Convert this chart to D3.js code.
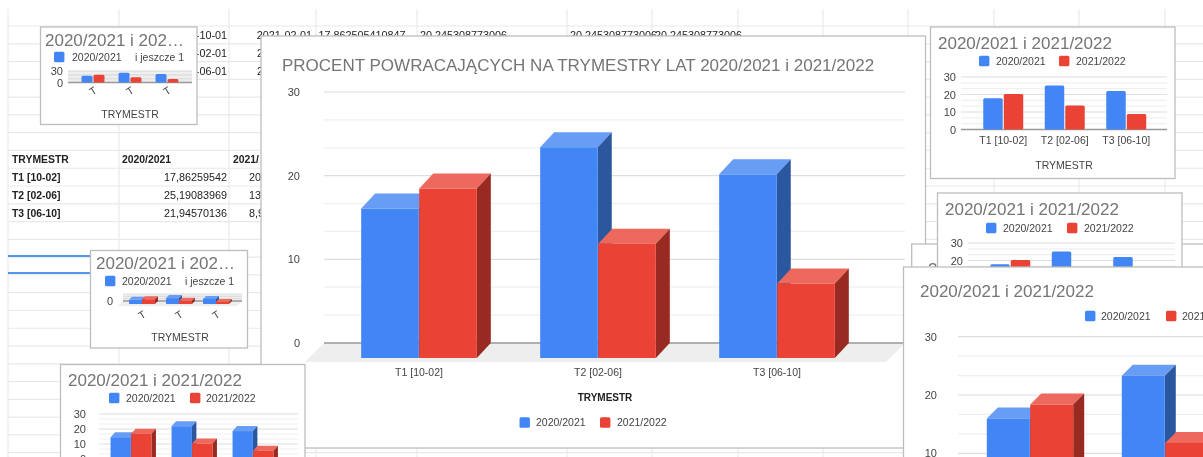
<!DOCTYPE html>
<html><head><meta charset="utf-8">
<style>html,body{margin:0;padding:0;background:#fff;overflow:hidden}svg{display:block;font-family:"Liberation Sans",Arial,sans-serif;filter:blur(0.3px)}</style>
<script src="https://cdn.jsdelivr.net/npm/d3@7"></script>
</head><body><svg id="c" width="1203" height="457"></svg>
<script>
const categories = ["T1 [10-02]", "T2 [02-06]", "T3 [06-10]"];
const seriesNames = ["2020/2021", "2021/2022"];
const values2021 = [17.86, 25.19, 21.95];
const values2122 = [20.25, 13.66, 8.9];
const majorTicks = [0, 10, 20, 30];
const minorTicks = [3.33, 6.67, 13.33, 16.67, 23.33, 26.67];
const axisTitle = "TRYMESTR";
const shortTitle = "2020/2021 i 2021/2022";
const clippedTitle = "2020/2021 i 202…";
const mainTitle = "PROCENT POWRACAJĄCYCH NA TRYMESTRY LAT 2020/2021 i 2021/2022";
const moreLabel = "i jeszcze 1";
const tableRows = [["T1 [10-02]", "17,86259542", "20"], ["T2 [02-06]", "25,19083969", "13"], ["T3 [06-10]", "21,94570136", "8,9"]];
const sheetRows = [["-10-01", "2021-02-01", "17,862505410847", "20,245308773006", "20,245308773006"], ["-02-01", "2"], ["-06-01", "2"]];

const svg = d3.select("#c");
const fill = {blue: "#4285f4", red: "#ea4335"};
const top3d = ["#689df6", "#ee695d"], side3d = ["#2b579e", "#982a21"];
const seriesColors = [fill.blue, fill.red];
const seriesValues = [values2021, values2122];
let clipId = 0;

/* spreadsheet behind the charts */
const sheet = svg.append("g");
const colX = [8, 119, 229, 316, 417, 567, 652, 738, 823, 908, 994, 1079, 1165];
const rowY = d3.range(0, 25).map(i => 26 + i * 17.78);
sheet.selectAll("line.v").data(colX).join("line").attr("x1", d => d).attr("x2", d => d).attr("y1", 9).attr("y2", 457).attr("stroke", "#e6e6e6");
sheet.selectAll("line.h").data(rowY).join("line").attr("x1", 8).attr("x2", 1203).attr("y1", d => d).attr("y2", d => d).attr("stroke", "#e9e9e9").attr("stroke-width", 1.2);
sheet.selectAll("line.s").data([256, 273]).join("line").attr("x1", 8).attr("x2", 95).attr("y1", d => d).attr("y2", d => d).attr("stroke", "#1a73e8").attr("stroke-width", 1.5);
const sheetText = (x, y, t, o = {}) => sheet.append("text").attr("x", x).attr("y", y).attr("dy", "0.35em").attr("font-size", o.size || 10.8).attr("fill", "#222").attr("font-weight", o.bold ? 700 : 400).attr("text-anchor", o.anchor || "start").text(t);
sheetRows.forEach((r, i) => {
  const y = 35.5 + i * 17.8;
  sheetText(227, y, r[0], {anchor: "end"});
  if (r[2]) {
    sheetText(312, y, r[1], {anchor: "end"});
    sheetText(318.5, y, r[2]); sheetText(420, y, r[3]); sheetText(570, y, r[4]); sheetText(655, y, r[4]);
  } else {
    sheetText(257, y, r[1]);
  }
});
sheetText(12, 159.5, axisTitle, {bold: true, size: 10.4});
sheetText(122, 159.5, seriesNames[0], {bold: true, size: 10.4});
sheetText(233, 159.5, "2021/", {bold: true, size: 10.4});
tableRows.forEach((r, i) => {
  const y = 177.5 + i * 17.9;
  sheetText(12, y, r[0], {bold: true, size: 10.4});
  sheetText(227, y, r[1], {anchor: "end"});
  sheetText(249, y, r[2]);
});

function chart(c) {
  const id = "clip" + (clipId++);
  svg.append("clipPath").attr("id", id).append("rect").attr("x", c.px).attr("y", c.py).attr("width", c.pw).attr("height", c.ph);
  svg.append("rect").attr("x", c.px).attr("y", c.py).attr("width", c.pw).attr("height", c.ph).attr("fill", "#fff").attr("stroke", "#bdbdbd").attr("stroke-width", 1.3);
  const g = svg.append("g").attr("clip-path", `url(#${id})`);
  // title
  g.append("text").attr("x", c.titleX).attr("y", c.titleY).attr("dy", "0.35em").attr("font-size", c.titleSize || 17).attr("fill", "#757575").text(c.title);
  if (c.titleOnly) return;
  // legend
  (c.legend || []).forEach(([sx, tx, label, col]) => {
    if (col !== undefined) g.append("rect").attr("x", sx).attr("y", c.legendY - 5.2).attr("width", 10.4).attr("height", 10.4).attr("rx", 1.5).attr("fill", seriesColors[col]);
    g.append("text").attr("x", tx).attr("y", c.legendY).attr("dy", "0.35em").attr("font-size", 10.5).attr("fill", "#444").text(label);
  });
  const y = d3.scaleLinear().domain([0, 30]).range([c.y0, c.y30]);
  const x0 = d3.scaleBand().domain(categories).range([c.xL, c.xR]).paddingInner(c.pad).paddingOuter(c.pad / 2);
  const x1 = d3.scaleBand().domain(seriesNames).range([0, x0.bandwidth()]).paddingInner(c.gap);
  const dx = c.dx || 0, dy = c.dy || 0;
  // floor
  if (dy) {
    const f = c.floor;
    g.append("polygon").attr("points", [[c.gridL, c.y0], [c.gridR, c.y0], [c.gridR - f, c.y0 + f], [c.gridL - f, c.y0 + f]].join(" ")).attr("fill", "#eeeeee");
  }
  // compressed plots: gridlines merge into one grey band
  if (c.band) g.append("rect").attr("x", c.gridL).attr("y", y(30)).attr("width", c.gridR - c.gridL).attr("height", y(0) - y(30)).attr("fill", "#e4e4e4");
  // gridlines
  g.selectAll("line.mi").data(minorTicks).join("line").attr("x1", c.gridL).attr("x2", c.gridR).attr("y1", d => y(d)).attr("y2", d => y(d)).attr("stroke", "#efefef").attr("stroke-width", 1.2);
  g.selectAll("line.ma").data(majorTicks.slice(1)).join("line").attr("x1", c.gridL).attr("x2", c.gridR).attr("y1", d => y(d)).attr("y2", d => y(d)).attr("stroke", "#dedede").attr("stroke-width", 1.2);
  g.append("line").attr("x1", c.gridL).attr("x2", c.gridR).attr("y1", y(0)).attr("y2", y(0)).attr("stroke", "#999").attr("stroke-width", 1.4);
  // y axis
  const ya = g.append("g").attr("transform", `translate(${c.tickRight},0)`).call(d3.axisLeft(y).tickValues(c.ticks || majorTicks).tickSize(0).tickPadding(0));
  ya.select(".domain").remove();
  ya.selectAll("text").attr("font-family", "Liberation Sans").attr("font-size", c.tickSize || 11).attr("fill", "#444");
  // bars
  const cats = g.selectAll("g.cat").data(categories).join("g").attr("class", "cat").attr("transform", d => `translate(${x0(d)},0)`);
  seriesNames.forEach((s, si) => {
    cats.each(function (cat, ci) {
      const v = seriesValues[si][ci], gg = d3.select(this);
      const xa = x1(s), w = x1.bandwidth(), ft = y(v) + dy, fb = y(0) + dy;
      if (dy) {
        gg.append("polygon").attr("points", [[xa, ft], [xa + dx, ft - dy], [xa + w + dx, ft - dy], [xa + w, ft]].join(" ")).attr("fill", top3d[si]);
        gg.append("polygon").attr("points", [[xa + w, ft], [xa + w + dx, ft - dy], [xa + w + dx, fb - dy], [xa + w, fb]].join(" ")).attr("fill", side3d[si]);
        gg.append("rect").attr("x", xa).attr("y", ft).attr("width", w).attr("height", fb - ft).attr("fill", seriesColors[si]);
      } else {
        gg.append("rect").attr("x", xa).attr("y", ft).attr("width", w).attr("height", fb - ft).attr("rx", 1.5).attr("fill", seriesColors[si]);
      }
    });
  });
  // x axis (only when it is inside the visible part of the panel)
  if (c.labelY !== undefined) {
    const xa = g.append("g").attr("transform", `translate(0,${c.labelY})`).call(d3.axisBottom(x0).tickSize(0).tickFormat(c.truncated ? () => "T" : d => d));
    xa.select(".domain").remove();
    const t = xa.selectAll("text").attr("font-family", "Liberation Sans").attr("font-size", c.xSize || 10.5).attr("fill", "#444").attr("y", 0).attr("dy", "0.35em");
    if (c.truncated) t.attr("text-anchor", "middle").attr("transform", "rotate(-32)");
  }
  // axis title
  if (c.axisY !== undefined) g.append("text").attr("x", c.axisX).attr("y", c.axisY).attr("dy", "0.35em").attr("text-anchor", "middle").attr("font-size", c.axisSize || 10.5).attr("font-weight", c.axisBold ? 700 : 400).attr("fill", c.axisBold ? "#222" : "#444").text(axisTitle);
}

const legendFull = (a, b, c2, d) => [[a, b, seriesNames[0], 0], [c2, d, seriesNames[1], 1]];

// mini chart top-left
chart({px: 40.5, py: 27, pw: 156.5, ph: 97.5, title: clippedTitle, titleX: 45, titleY: 40,
  legend: [[54, 72, seriesNames[0], 0], [0, 135, moreLabel]], legendY: 57,
  y0: 82.5, y30: 71, xL: 74.5, xR: 185.5, pad: 0.38, gap: 0.08, gridL: 68, gridR: 192, tickRight: 63, ticks: [0, 30], band: true,
  labelY: 91, truncated: true, axisX: 130, axisY: 114});
// mini chart squashed 3D
chart({px: 90.5, py: 250.5, pw: 157, ph: 97.5, title: clippedTitle, titleX: 96, titleY: 263,
  legend: [[105, 122, seriesNames[0], 0], [0, 185, moreLabel]], legendY: 281,
  y0: 301, y30: 294, dx: 3, dy: 3, floor: 5, xL: 123.5, xR: 234.5, pad: 0.3, gap: 0, gridL: 123, gridR: 242, tickRight: 113, ticks: [0], band: true,
  labelY: 315, truncated: true, axisX: 180, axisY: 337});
// main chart
chart({px: 261, py: 36, pw: 664.5, ph: 412, title: mainTitle, titleX: 282, titleY: 65, titleSize: 17,
  legend: legendFull(519.5, 536, 600, 617), legendY: 422.5,
  y0: 343, y30: 92, dx: 14, dy: 15, floor: 19, xL: 329.5, xR: 866.5, pad: 0.354, gap: 0.008, gridL: 324, gridR: 905, tickRight: 300,
  labelY: 372, axisX: 605, axisY: 397, axisSize: 10, axisBold: true});
// panel behind, almost fully hidden: only the top of its title shows
chart({px: 911.7, py: 244, pw: 320, ph: 230, title: "2", titleX: 928, titleY: 269, titleOnly: true});
// second 2D chart
const r2 = {pw: 244.5, ph: 300, title: shortTitle, pad: 0.35, gap: 0.05};
chart({...r2, px: 937.5, py: 193, titleX: 945, titleY: 209,
  legend: legendFull(986, 1003, 1067, 1084), legendY: 228,
  y0: 295.5, y30: 243, xL: 979.5, xR: 1164, gridL: 968, gridR: 1175, tickRight: 963, ticks: [20, 30]});
// front lower-right chart
chart({px: 903.5, py: 267, pw: 340, ph: 240, title: shortTitle, titleX: 920, titleY: 291,
  legend: legendFull(1085, 1101, 1166, 1182), legendY: 316,
  y0: 511.6, y30: 336.7, dx: 11, dy: 11, floor: 14, xL: 962.5, xR: 1367.5, pad: 0.36, gap: 0.01, gridL: 958, gridR: 1240, tickRight: 937, ticks: [10, 20, 30]});
// bottom-left chart
chart({px: 60.5, py: 364.5, pw: 244.5, ph: 150, title: shortTitle, titleX: 68, titleY: 380,
  legend: legendFull(109, 126, 190, 206), legendY: 398,
  y0: 459, y30: 414, dx: 4.5, dy: 5, floor: 6, xL: 100.5, xR: 283.5, pad: 0.33, gap: 0.01, gridL: 99, gridR: 298, tickRight: 86});
// top-right 2D chart
chart({...r2, ph: 151.5, px: 930.5, py: 27, titleX: 938, titleY: 43,
  legend: legendFull(979, 996, 1059, 1076), legendY: 61,
  y0: 129.5, y30: 77, xL: 972.5, xR: 1157, gridL: 961, gridR: 1167, tickRight: 956, labelY: 140, axisX: 1064, axisY: 165});
</script></body></html>
